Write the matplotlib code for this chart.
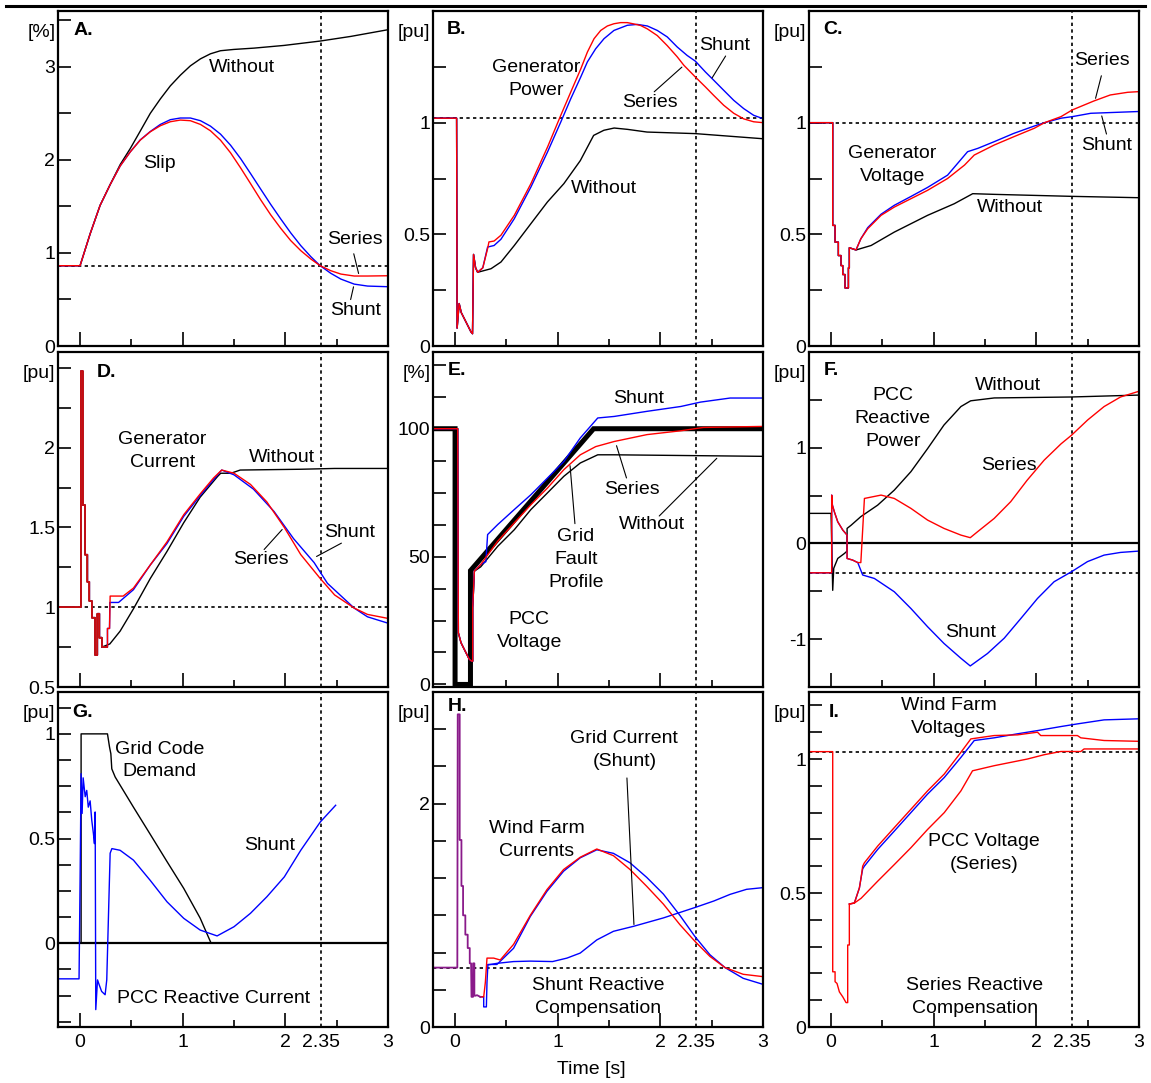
import matplotlib
matplotlib.use('Agg')
import matplotlib.pyplot as plt
from matplotlib.lines import Line2D

plt.rcParams['font.family'] = ['Liberation Sans', 'DejaVu Sans']
plt.rcParams['font.size'] = 14

RED, BLUE, PURPLE, MAROON = '#ff0000', '#0000ff', '#8a1a8a', '#c01010'
T_MARK = 2.35

# ---------------- A. slip [%] ----------------
a_ref = 0.865
a_t_without = [-0.215, 0, 0.098, 0.195, 0.293, 0.391, 0.489, 0.586, 0.684, 0.782, 0.879, 0.977, 1.075, 1.173,
               1.270, 1.368, 1.498, 1.694, 1.987, 2.339, 2.638, 3.0]
a_without = [0.863, 0.863, 1.205, 1.511, 1.734, 1.950, 2.122, 2.309, 2.50, 2.655, 2.795, 2.910, 3.011, 3.086,
             3.140, 3.173, 3.187, 3.201, 3.230, 3.277, 3.327, 3.399]
a_t_shunt = [-0.215, 0, 0.098, 0.195, 0.293, 0.391, 0.489, 0.586, 0.684, 0.782, 0.879, 0.977, 1.075, 1.173,
             1.270, 1.368, 1.466, 1.564, 1.661, 1.759, 1.857, 1.954, 2.052, 2.150, 2.248, 2.339, 2.443, 2.541,
             2.671, 2.801, 3.0]
a_shunt = [0.863, 0.863, 1.205, 1.511, 1.734, 1.935, 2.086, 2.215, 2.305, 2.381, 2.432, 2.45, 2.45, 2.421,
           2.363, 2.277, 2.158, 2.014, 1.853, 1.687, 1.522, 1.367, 1.216, 1.079, 0.960, 0.863, 0.781, 0.719,
           0.665, 0.644, 0.637]
a_t_series = [-0.215, 0, 0.098, 0.195, 0.293, 0.391, 0.489, 0.586, 0.684, 0.782, 0.879, 0.977, 1.075, 1.173,
              1.270, 1.368, 1.466, 1.564, 1.661, 1.759, 1.857, 1.954, 2.052, 2.150, 2.248, 2.339, 2.443, 2.541,
              2.671, 2.801, 3.0]
a_series = [0.863, 0.863, 1.205, 1.511, 1.734, 1.935, 2.086, 2.212, 2.302, 2.367, 2.410, 2.428, 2.421, 2.381,
            2.313, 2.212, 2.076, 1.914, 1.745, 1.572, 1.410, 1.266, 1.133, 1.025, 0.935, 0.863, 0.809, 0.773,
            0.752, 0.752, 0.755]

# ---------------- B. generator power [pu] ----------------
b_ref = 1.02
b_dip_t = [-0.215, 0.015, 0.02, 0.04, 0.06, 0.107, 0.155, 0.17, 0.18, 0.2, 0.22]
b_dip = [1.02, 1.02, 0.08, 0.19, 0.15, 0.107, 0.063, 0.055, 0.41, 0.35, 0.33]
b_t_without = [0.35, 0.447, 0.577, 0.739, 0.90, 1.06, 1.22, 1.35, 1.45, 1.55, 1.68, 1.87, 2.34, 3.0]
b_without = [0.346, 0.376, 0.45, 0.548, 0.645, 0.727, 0.83, 0.943, 0.966, 0.976, 0.97, 0.958, 0.951, 0.928]
b_t_shunt = [0.27, 0.317, 0.38, 0.447, 0.577, 0.739, 0.901, 1.030, 1.127, 1.224, 1.289, 1.370, 1.451, 1.548,
             1.678, 1.775, 1.873, 1.970, 2.067, 2.164, 2.261, 2.342, 2.439, 2.520, 2.617, 2.715, 2.812, 2.909, 3.0]
b_shunt = [0.35, 0.443, 0.45, 0.478, 0.570, 0.712, 0.869, 1.003, 1.107, 1.204, 1.272, 1.331, 1.376, 1.413,
           1.436, 1.44, 1.433, 1.413, 1.384, 1.339, 1.301, 1.275, 1.227, 1.19, 1.145, 1.10, 1.063, 1.033, 1.018]
b_t_series = [0.27, 0.317, 0.33, 0.38, 0.447, 0.577, 0.739, 0.901, 1.030, 1.127, 1.224, 1.289, 1.354, 1.419,
              1.484, 1.548, 1.613, 1.678, 1.743, 1.808, 1.873, 1.970, 2.067, 2.164, 2.229, 2.342, 2.439, 2.520,
              2.617, 2.715, 2.812, 2.909, 3.0]
b_series = [0.35, 0.436, 0.466, 0.47, 0.496, 0.585, 0.727, 0.891, 1.033, 1.137, 1.24, 1.316, 1.376, 1.413,
            1.433, 1.443, 1.448, 1.448, 1.442, 1.435, 1.42, 1.39, 1.345, 1.295, 1.257, 1.204, 1.16, 1.122,
            1.078, 1.042, 1.017, 1.004, 1.0]

# ---------------- C. generator voltage [pu] ----------------
c_ref = 1.0
c_dip_t = [-0.215, 0.016, 0.016, 0.039, 0.039, 0.071, 0.071, 0.097, 0.097, 0.114, 0.114, 0.136, 0.136, 0.169, 0.169, 0.178, 0.178, 0.243]
c_dip = [1.0, 1.0, 0.54, 0.54, 0.465, 0.465, 0.405, 0.405, 0.36, 0.36, 0.32, 0.32, 0.26, 0.26, 0.35, 0.35, 0.44, 0.43]
c_t_without = [0.39, 0.616, 0.94, 1.2, 1.38, 1.59, 2.35, 3.0]
c_without = [0.45, 0.51, 0.585, 0.637, 0.682, 0.679, 0.67, 0.664]
c_t_shunt = [0.29, 0.357, 0.487, 0.616, 0.78, 0.94, 1.135, 1.33, 1.43, 1.59, 1.78, 1.98, 2.08, 2.24, 2.35, 2.53, 3.0]
c_shunt = [0.48, 0.53, 0.59, 0.63, 0.67, 0.71, 0.765, 0.87, 0.885, 0.915, 0.952, 0.985, 1.0, 1.02, 1.027, 1.042, 1.05]
c_t_series = [0.29, 0.357, 0.487, 0.616, 0.78, 0.94, 1.135, 1.30, 1.395, 1.59, 1.78, 1.98, 2.08, 2.24, 2.35, 2.56, 2.72, 2.89, 3.0]
c_series = [0.48, 0.525, 0.585, 0.622, 0.66, 0.697, 0.75, 0.81, 0.855, 0.90, 0.937, 0.975, 1.0, 1.027, 1.057, 1.097, 1.124, 1.136, 1.139]

# ---------------- D. generator current [pu] ----------------
d_ref = 1.0
d_dip_t = [-0.215, 0.007, 0.007, 0.026, 0.026, 0.049, 0.049, 0.072, 0.072, 0.091, 0.091, 0.114, 0.114,
           0.147, 0.147, 0.169, 0.169, 0.189, 0.189, 0.212, 0.212, 0.26]
d_dip = [1.0, 1.0, 2.48, 2.48, 1.64, 1.64, 1.33, 1.33, 1.16, 1.16, 1.04, 1.04, 0.935,
         0.935, 0.70, 0.70, 0.96, 0.96, 0.81, 0.81, 0.75, 0.75]
d_t_without = [0.212, 0.29, 0.39, 0.52, 0.684, 0.847, 1.01, 1.17, 1.34, 1.37, 1.47, 1.56, 2.15, 2.48, 3.0]
d_without = [0.75, 0.77, 0.85, 0.99, 1.18, 1.35, 1.53, 1.69, 1.82, 1.84, 1.84, 1.86, 1.865, 1.87, 1.87]
d_t_shunt = [0.267, 0.267, 0.287, 0.29, 0.375, 0.52, 0.684, 0.847, 1.01, 1.17, 1.30, 1.38, 1.50, 1.69, 1.89,
             2.08, 2.28, 2.41, 2.67, 2.80, 3.0]
d_shunt = [0.75, 0.867, 0.867, 1.03, 1.03, 1.11, 1.265, 1.40, 1.57, 1.70, 1.80, 1.86, 1.83, 1.74, 1.60,
           1.43, 1.28, 1.15, 0.995, 0.94, 0.90]
d_t_series = [0.267, 0.267, 0.287, 0.293, 0.42, 0.52, 0.684, 0.847, 1.01, 1.17, 1.30, 1.38, 1.50, 1.66, 1.82,
              1.99, 2.15, 2.34, 2.48, 2.67, 2.80, 3.0]
d_series = [0.75, 0.867, 0.867, 1.07, 1.07, 1.12, 1.265, 1.41, 1.58, 1.71, 1.81, 1.86, 1.84, 1.77, 1.66,
            1.50, 1.33, 1.18, 1.077, 0.995, 0.955, 0.93]

# ---------------- E. PCC voltage [%] ----------------
e_t_profile = [-0.215, 0, 0, 0.15, 0.15, 1.35, 3.0]
e_profile = [100, 100, 0, 0, 44.5, 100, 100]
e_dip_t = [-0.215, 0.026, 0.032, 0.058, 0.09, 0.139, 0.162, 0.172, 0.172, 0.188]
e_dip = [100, 100, 20.2, 16.3, 13.7, 9.8, 9.1, 9.1, 30, 44.3]
e_t_without = [0.188, 0.25, 0.415, 0.577, 0.739, 0.90, 1.06, 1.22, 1.39, 1.55, 3.0]
e_without = [44.3, 46, 54, 60.5, 68.4, 74.9, 81.4, 86.6, 89.8, 89.8, 89.2]
e_t_shunt = [0.188, 0.25, 0.30, 0.317, 0.415, 0.577, 0.739, 0.90, 1.06, 1.22, 1.39, 1.55, 1.87, 2.2, 2.39, 2.68, 3.0]
e_shunt = [44.3, 46.9, 48, 58.6, 62.5, 68.4, 74.2, 80.7, 87.2, 96.4, 104.2, 104.8, 106.8, 108.7, 110.4, 112, 112]
e_t_series = [0.188, 0.25, 0.415, 0.577, 0.739, 0.90, 1.06, 1.22, 1.37, 1.55, 1.87, 2.2, 2.42, 3.0]
e_series = [44.3, 46.9, 56, 63.2, 70.3, 76.8, 84, 89.8, 93, 95, 97.7, 99.2, 100.5, 100.9]

# ---------------- F. PCC reactive power [pu] ----------------
f_ref = -0.307
f_t_without = [-0.215, 0.0, 0.016, 0.026, 0.065, 0.13, 0.156, 0.156, 0.195, 0.29, 0.454, 0.616, 0.778, 0.94,
               1.10, 1.265, 1.36, 1.59, 2.34, 3.0]
f_without = [0.314, 0.314, -0.49, -0.26, -0.157, -0.105, -0.08, 0.157, 0.19, 0.28, 0.40, 0.557, 0.75, 0.99,
             1.237, 1.43, 1.49, 1.52, 1.53, 1.55]
f_dip_t = [-0.215, 0.006, 0.006, 0.013, 0.032, 0.065, 0.114, 0.156, 0.156, 0.21, 0.26]
f_dip = [-0.307, -0.307, 0.505, 0.40, 0.33, 0.226, 0.14, 0.087, -0.157, -0.174, -0.2]
f_t_shunt = [0.26, 0.308, 0.422, 0.616, 0.778, 0.94, 1.10, 1.265, 1.356, 1.524, 1.687, 1.849, 2.011, 2.173,
             2.342, 2.498, 2.66, 2.82, 3.0]
f_shunt = [-0.2, -0.33, -0.366, -0.505, -0.68, -0.87, -1.045, -1.2, -1.28, -1.15, -0.99, -0.784, -0.575, -0.40,
           -0.296, -0.19, -0.122, -0.094, -0.08]
f_t_series = [0.26, 0.29, 0.325, 0.487, 0.616, 0.778, 0.94, 1.10, 1.265, 1.356, 1.427, 1.589, 1.75, 1.91,
              2.076, 2.24, 2.342, 2.50, 2.66, 2.82, 3.0]
f_series = [-0.2, -0.2, 0.47, 0.505, 0.47, 0.366, 0.244, 0.157, 0.087, 0.06, 0.122, 0.261, 0.436, 0.66,
            0.87, 1.04, 1.13, 1.29, 1.43, 1.53, 1.59]

# ---------------- G. PCC reactive current [pu] ----------------
g_t_demand = [-0.215, 0.01, 0.01, 0.267, 0.287, 0.30, 0.309, 0.342, 0.52, 0.684, 0.847, 1.01, 1.17, 1.25, 1.277, 3.0]
g_demand = [0, 0, 1, 1, 0.937, 0.905, 0.833, 0.794, 0.65, 0.52, 0.39, 0.262, 0.12, 0.03, 0, 0]
g_t_shunt = [-0.215, -0.01, 0.0, 0.01, 0.02, 0.03, 0.05, 0.065, 0.08, 0.098, 0.114, 0.13, 0.14, 0.147, 0.153,
             0.17, 0.186, 0.21, 0.244, 0.26, 0.293, 0.31, 0.39, 0.52, 0.684, 0.847, 1.01, 1.17, 1.335, 1.50,
             1.66, 1.82, 1.99, 2.15, 2.34, 2.49]
g_shunt = [-0.17, -0.17, 0.294, 0.81, 0.62, 0.79, 0.70, 0.73, 0.65, 0.68, 0.587, 0.524, 0.476, 0.627, -0.317,
           -0.175, -0.198, -0.23, -0.246, -0.175, 0.43, 0.452, 0.444, 0.397, 0.30, 0.198, 0.119, 0.063, 0.035,
           0.079, 0.143, 0.222, 0.317, 0.444, 0.579, 0.659]

# ---------------- H. currents [pu] ----------------
h_ref = 0.532
h_spike_t = [-0.215, 0.022, 0.026, 0.045, 0.045, 0.062, 0.062, 0.078, 0.078, 0.10, 0.10, 0.123, 0.123,
             0.143, 0.143, 0.156, 0.16, 0.175, 0.175, 0.188, 0.188, 0.198, 0.214, 0.246]
h_spike = [0.532, 0.532, 2.80, 2.80, 1.675, 1.675, 1.263, 1.263, 1.0, 1.0, 0.827, 0.827, 0.707,
           0.707, 0.57, 0.57, 0.27, 0.27, 0.57, 0.57, 0.28, 0.28, 0.285, 0.27]
h_t_wf_shunt = [0.246, 0.279, 0.279, 0.305, 0.311, 0.32, 0.408, 0.57, 0.733, 0.895, 1.057, 1.219, 1.381,
                1.543, 1.705, 1.867, 2.03, 2.19, 2.337, 2.483, 2.63, 2.807, 3.0]
h_wf_shunt = [0.27, 0.27, 0.18, 0.18, 0.40, 0.56, 0.56, 0.705, 0.99, 1.215, 1.395, 1.515, 1.587,
              1.555, 1.47, 1.34, 1.19, 1.0, 0.81, 0.647, 0.532, 0.436, 0.382]
h_t_wf_series = [0.246, 0.279, 0.295, 0.311, 0.376, 0.44, 0.57, 0.733, 0.895, 1.057, 1.219, 1.381, 1.543,
                 1.705, 1.867, 2.03, 2.19, 2.337, 2.483, 2.63, 2.807, 3.0]
h_wf_series = [0.27, 0.27, 0.40, 0.617, 0.617, 0.60, 0.74, 1.0, 1.23, 1.41, 1.52, 1.594, 1.534,
               1.41, 1.26, 1.10, 0.917, 0.767, 0.632, 0.532, 0.472, 0.451]
h_t_grid = [0.32, 0.408, 0.57, 0.733, 0.95, 1.09, 1.219, 1.381, 1.543, 1.74, 2.03, 2.337, 2.52, 2.68, 2.84, 3.0]
h_grid = [0.556, 0.57, 0.586, 0.59, 0.586, 0.617, 0.662, 0.78, 0.857, 0.902, 0.977, 1.07, 1.128, 1.188, 1.233, 1.248]

# ---------------- I. voltages [pu] ----------------
i_ref = 1.0275
i_t_pcc = [-0.215, 0.016, 0.016, 0.039, 0.039, 0.058, 0.081, 0.114, 0.146, 0.162, 0.162, 0.178, 0.178, 0.227,
           0.292, 0.454, 0.616, 0.778, 0.94, 1.103, 1.265, 1.378, 1.589, 1.914, 2.076, 2.238, 2.433, 2.465, 3.0]
i_pcc = [1.0275, 1.0275, 0.206, 0.206, 0.169, 0.1625, 0.131, 0.1125, 0.091, 0.091, 0.306, 0.306, 0.459, 0.4625,
         0.48, 0.544, 0.606, 0.669, 0.737, 0.80, 0.881, 0.956, 0.975, 1.0, 1.016, 1.028, 1.028, 1.0375, 1.0375]
i_t_wf_shunt = [0.178, 0.227, 0.276, 0.292, 0.308, 0.324, 0.454, 0.616, 0.778, 0.94, 1.103, 1.265, 1.395,
                1.589, 1.816, 2.011, 2.238, 2.40, 2.66, 3.0]
i_wf_shunt = [0.459, 0.4625, 0.519, 0.556, 0.59, 0.6, 0.6625, 0.731, 0.80, 0.869, 0.931, 1.006, 1.069,
              1.079, 1.094, 1.106, 1.121, 1.131, 1.146, 1.15]
i_t_wf_series = [0.178, 0.227, 0.276, 0.292, 0.308, 0.324, 0.454, 0.616, 0.778, 0.94, 1.103, 1.265, 1.362,
                 1.589, 1.816, 2.011, 2.043, 2.40, 2.433, 2.66, 3.0]
i_wf_series = [0.459, 0.4625, 0.519, 0.556, 0.60, 0.6125, 0.675, 0.744, 0.8125, 0.881, 0.944, 1.025, 1.075,
               1.0875, 1.09, 1.1, 1.0875, 1.0875, 1.079, 1.069, 1.066]

# ---------------- figure / axes ----------------
W, H = 1151, 1083
fig = plt.figure(figsize=(W / 100, H / 100), dpi=100)
col_left = [58, 433, 809]
row_top = [11, 352, 692]
AX_W, AX_H = 330, 335

LW = 1.0
DOT = dict(color='k', lw=1.2, ls=(0, (2, 2)))


def panel(r, c, ylim, yticks, ylabels, unit, letter, lx=0.045, ly=0.94):
    ax = fig.add_axes([col_left[c] / W, 1 - (row_top[r] + AX_H) / H, AX_W / W, AX_H / H])
    ax.set_xlim(-0.215, 3.0)
    ax.set_ylim(*ylim)
    for s in ax.spines.values():
        s.set_linewidth(1.6)
    ax.set_yticks(yticks)
    ax.set_yticklabels(ylabels)
    ax.tick_params(axis='y', direction='in', length=9, width=1.2, pad=2, labelsize=14)
    if r == 2:
        ax.set_xticks([0, 1, 2, 2.35, 3])
        ax.set_xticklabels(['0', '1', '2', '2.35', '3'])
        ax.xaxis.get_major_ticks()[3].tick1line.set_visible(False)
    else:
        ax.set_xticks([0, 1, 2, 3])
        ax.tick_params(axis='x', labelbottom=False)
    ax.set_xticks([0.5, 1.5, 2.5], minor=True)
    ax.tick_params(axis='x', which='major', direction='in', length=10, width=1.2, pad=5, labelsize=14)
    ax.tick_params(axis='x', which='minor', direction='in', length=5, width=1.2)
    ax.text(-0.008, 0.937, unit, transform=ax.transAxes, ha='right', va='center', fontsize=14)
    ax.text(lx, ly, letter, transform=ax.transAxes, ha='left', va='center', fontsize=14, fontweight='bold')
    ax.axvline(T_MARK, **DOT)
    return ax


def label(ax, x, y, s):
    ax.text(x, y, s, ha='center', va='center', linespacing=1.45)


def lead(ax, p0, p1):
    ax.annotate('', xy=p1, xytext=p0, arrowprops=dict(arrowstyle='-', lw=0.8, color='k'))


# A
ax = panel(0, 0, (0, 3.6), [0, 0.5, 1, 1.5, 2, 2.5, 3, 3.5], ['0', '', '1', '', '2', '', '3', ''], '[%]', 'A.', 0.046, 0.943)
ax.axhline(a_ref, **DOT)
ax.plot(a_t_without, a_without, color='k', lw=LW)
ax.plot(a_t_shunt, a_shunt, color=BLUE, lw=LW)
ax.plot(a_t_series, a_series, color=RED, lw=LW)
label(ax, 1.58, 2.99, 'Without')
label(ax, 0.77, 1.96, 'Slip')
label(ax, 2.68, 1.14, 'Series')
label(ax, 2.68, 0.38, 'Shunt')
lead(ax, (2.66, 1.02), (2.72, 0.75))
lead(ax, (2.67, 0.665), (2.63, 0.47))

# B
ax = panel(0, 1, (0, 1.5), [0, 0.25, 0.5, 0.75, 1, 1.25], ['0', '', '0.5', '', '1', ''], '[pu]', 'B.', 0.042, 0.945)
ax.axhline(b_ref, **DOT)
ax.plot(b_dip_t + b_t_without, b_dip + b_without, color='k', lw=LW)
ax.plot(b_dip_t + b_t_shunt, b_dip + b_shunt, color=BLUE, lw=LW)
ax.plot(b_dip_t + b_t_series, b_dip + b_series, color=RED, lw=LW)
label(ax, 0.787, 1.197, 'Generator\nPower')
label(ax, 2.63, 1.346, 'Shunt')
label(ax, 1.90, 1.09, 'Series')
label(ax, 1.45, 0.707, 'Without')
lead(ax, (2.65, 1.309), (2.49, 1.19))
lead(ax, (1.92, 1.13), (2.23, 1.257))

# C
ax = panel(0, 2, (0, 1.5), [0, 0.25, 0.5, 0.75, 1, 1.25], ['0', '', '0.5', '', '1', ''], '[pu]', 'C.', 0.043, 0.945)
ax.axhline(c_ref, **DOT)
ax.plot(c_dip_t + c_t_without, c_dip + c_without, color='k', lw=LW)
ax.plot(c_dip_t + c_t_shunt, c_dip + c_shunt, color=BLUE, lw=LW)
ax.plot(c_dip_t + c_t_series, c_dip + c_series, color=RED, lw=LW)
label(ax, 0.6, 0.81, 'Generator\nVoltage')
label(ax, 2.64, 1.28, 'Series')
label(ax, 2.68, 0.90, 'Shunt')
label(ax, 1.745, 0.622, 'Without')
lead(ax, (2.64, 1.222), (2.57, 1.097))
lead(ax, (2.63, 1.042), (2.69, 0.937))

# D
ax = panel(1, 0, (0.5, 2.6), [0.5, 0.75, 1, 1.25, 1.5, 1.75, 2, 2.25, 2.5],
           ['0.5', '', '1', '', '1.5', '', '2', '', ''], '[pu]', 'D.', 0.118, 0.94)
ax.axhline(d_ref, **DOT)
ax.plot(d_dip_t + d_t_without, d_dip + d_without, color='k', lw=LW)
ax.plot(d_dip_t + d_t_shunt, d_dip + d_shunt, color=BLUE, lw=LW)
ax.plot(d_dip_t + d_t_series, d_dip + d_series, color=RED, lw=LW)
ax.plot(d_dip_t, d_dip, color=MAROON, lw=1.2)
label(ax, 0.8, 1.978, 'Generator\nCurrent')
label(ax, 1.97, 1.936, 'Without')
label(ax, 2.63, 1.47, 'Shunt')
label(ax, 1.76, 1.297, 'Series')
lead(ax, (1.775, 1.349), (1.987, 1.50))
lead(ax, (2.57, 1.41), (2.28, 1.31))

# E
ax = panel(1, 1, (-1, 130), [0, 12.5, 25, 37.5, 50, 62.5, 75, 87.5, 100, 112.5, 125],
           ['0', '', '', '', '50', '', '', '', '100', '', ''], '[%]', 'E.', 0.045, 0.946)
ax.plot(e_t_profile, e_profile, color='k', lw=3.6, solid_joinstyle='miter')
ax.plot(e_dip_t + e_t_without, e_dip + e_without, color='k', lw=LW)
ax.plot(e_dip_t + e_t_shunt, e_dip + e_shunt, color=BLUE, lw=LW)
ax.plot(e_dip_t + e_t_series, e_dip + e_series, color=RED, lw=LW)
label(ax, 1.79, 112, 'Shunt')
label(ax, 1.727, 76.2, 'Series')
label(ax, 1.92, 62.5, 'Without')
label(ax, 1.176, 48.8, 'Grid\nFault\nProfile')
label(ax, 0.722, 20.8, 'PCC\nVoltage')
lead(ax, (1.17, 61.8), (1.118, 86.6))
lead(ax, (1.678, 79.7), (1.565, 94.4))
lead(ax, (1.97, 65.1), (2.569, 89.2))

# F
ax = panel(1, 2, (-1.5, 2.0), [-1.5, -1, -0.5, 0, 0.5, 1, 1.5], ['', '-1', '', '0', '', '1', ''], '[pu]', 'F.', 0.045, 0.946)
ax.axhline(0, color='k', lw=1.6)
ax.axhline(f_ref, **DOT)
ax.plot(f_t_without, f_without, color='k', lw=LW)
ax.plot(f_dip_t + f_t_shunt, f_dip + f_shunt, color=BLUE, lw=LW)
ax.plot(f_dip_t + f_t_series, f_dip + f_series, color=RED, lw=LW)
label(ax, 0.6, 1.307, 'PCC\nReactive\nPower')
label(ax, 1.72, 1.655, 'Without')
label(ax, 1.735, 0.81, 'Series')
label(ax, 1.356, -0.93, 'Shunt')

# G
ax = panel(2, 0, (-0.4, 1.2), [-0.375, -0.25, -0.125, 0, 0.125, 0.25, 0.375, 0.5, 0.625, 0.75, 0.875, 1, 1.125],
           ['', '', '', '0', '', '', '', '0.5', '', '', '', '1', ''], '[pu]', 'G.', 0.042, 0.94)
ax.axhline(0, color='k', lw=1.6)
ax.plot(g_t_demand, g_demand, color='k', lw=LW)
ax.plot(g_t_shunt, g_shunt, color=BLUE, lw=LW)
label(ax, 0.775, 0.873, 'Grid Code\nDemand')
label(ax, 1.85, 0.468, 'Shunt')
label(ax, 1.30, -0.262, 'PCC Reactive Current')

# H
ax = panel(2, 1, (0, 3.0), [0, 1 / 3, 2 / 3, 1, 4 / 3, 5 / 3, 2, 7 / 3, 8 / 3],
           ['0', '', '', '', '', '', '2', '', ''], '[pu]', 'H.', 0.045, 0.958)
ax.axhline(h_ref, **DOT)
ax.plot(h_t_grid, h_grid, color=BLUE, lw=LW)
ax.plot(h_t_wf_shunt, h_wf_shunt, color=BLUE, lw=LW)
ax.plot(h_t_wf_series, h_wf_series, color=RED, lw=LW)
ax.plot(h_spike_t, h_spike, color=PURPLE, lw=1.3)
label(ax, 1.65, 2.48, 'Grid Current\n(Shunt)')
label(ax, 0.797, 1.675, 'Wind Farm\nCurrents')
label(ax, 1.397, 0.27, 'Shunt Reactive\nCompensation')
lead(ax, (1.673, 2.255), (1.744, 0.893))

# I
ax = panel(2, 2, (0, 1.25), [0, 0.1, 0.2, 0.3, 0.4, 0.5, 0.6, 0.7, 0.8, 0.9, 1.0, 1.1, 1.2],
           ['0', '', '', '', '', '0.5', '', '', '', '', '1', '', ''], '[pu]', 'I.', 0.06, 0.94)
ax.axhline(i_ref, **DOT)
ax.plot(i_t_wf_shunt, i_wf_shunt, color=BLUE, lw=LW)
ax.plot(i_t_wf_series, i_wf_series, color=RED, lw=LW)
ax.plot(i_t_pcc, i_pcc, color=RED, lw=LW)
label(ax, 1.145, 1.156, 'Wind Farm\nVoltages')
label(ax, 1.49, 0.65, 'PCC Voltage\n(Series)')
label(ax, 1.40, 0.1125, 'Series Reactive\nCompensation')

fig.text(591 / W, 1 - 1070 / H, 'Time [s]', ha='center', va='center', fontsize=14)
fig.add_artist(Line2D([6 / W, 1145 / W], [1 - 5.5 / H, 1 - 5.5 / H], color='k', lw=2.2))

fig.savefig('out.png', dpi=100)
